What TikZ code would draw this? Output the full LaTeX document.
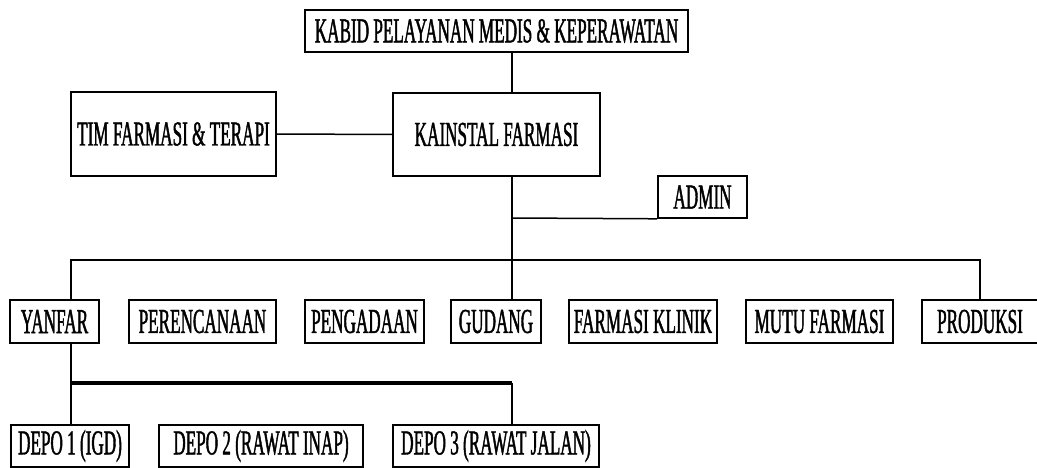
\documentclass[tikz,border=0pt]{standalone}
\usepackage{fontspec}
\setmainfont[FakeStretch=0.49,FakeBold=1.2]{Liberation Serif}
\begin{document}
\begin{tikzpicture}[x=1pt,y=-1pt,
  orgbox/.style={draw=black,line width=1.6pt,inner sep=0pt,anchor=center,
    font=\fontsize{35}{35}\selectfont},
  conn/.style={draw=black,line width=1.5pt},
  thickconn/.style={draw=black,line width=4pt}]
\useasboundingbox (0,0) rectangle (1037,468);
\fill[white] (0,0) rectangle (1037,468);
% top level
\node[orgbox,minimum width=383pt,minimum height=42pt] (kabid) at (496.5,31) {KABID PELAYANAN MEDIS \& KEPERAWATAN};
\node[orgbox,minimum width=207pt,minimum height=83pt] (kain) at (496.5,134.5) {KAINSTAL FARMASI};
\node[orgbox,minimum width=205pt,minimum height=84pt] (tim) at (173.5,134) {TIM FARMASI \& TERAPI};
\node[orgbox,minimum width=89pt,minimum height=42pt] (admin) at (702.5,197) {ADMIN};
% second row
\node[orgbox,minimum width=89pt,minimum height=43pt] (yanfar) at (54.5,321.5) {YANFAR};
\node[orgbox,minimum width=147pt,minimum height=43pt] (peren) at (202.5,321.5) {PERENCANAAN};
\node[orgbox,minimum width=119pt,minimum height=43pt] (penga) at (364.5,321.5) {PENGADAAN};
\node[orgbox,minimum width=90pt,minimum height=43pt] (gudang) at (496,321.5) {GUDANG};
\node[orgbox,minimum width=148pt,minimum height=43pt] (klinik) at (643,321.5) {FARMASI KLINIK};
\node[orgbox,minimum width=147pt,minimum height=43pt] (mutu) at (819.5,321.5) {MUTU FARMASI};
\node[orgbox,minimum width=116pt,minimum height=43pt] (produksi) at (980,321.5) {PRODUKSI};
% third row
\node[orgbox,minimum width=118pt,minimum height=42pt] (depo1) at (70,446) {DEPO 1 (IGD)};
\node[orgbox,minimum width=204pt,minimum height=42pt] (depo2) at (261,446) {DEPO 2 (RAWAT INAP)};
\node[orgbox,minimum width=206pt,minimum height=42pt] (depo3) at (496,446) {DEPO 3 (RAWAT JALAN)};
% helper coordinates
\coordinate (sp) at (512,0);
\coordinate (yx) at (71,0);
\coordinate (bus) at (0,260);
\coordinate (adm) at (0,218);
\coordinate (dbus) at (0,383);
% connectors
\draw[conn] (kabid.south -| sp) -- (kain.north -| sp);
\draw[conn] (tim.east) -- (kain.west);
\draw[conn] (kain.south -| sp) -- (gudang.north -| sp);
\draw[conn] (adm -| sp) -- (admin.south west);
\draw[conn] (yanfar.north -| yx) |- (bus -| produksi.north) -- (produksi.north);
\draw[conn] (yanfar.south -| yx) -- (depo1.north -| yx);
\draw[thickconn] (dbus -| yx) -- (dbus -| sp);
\draw[conn] (dbus -| sp) -- (depo3.north -| sp);
\end{tikzpicture}
\end{document}
